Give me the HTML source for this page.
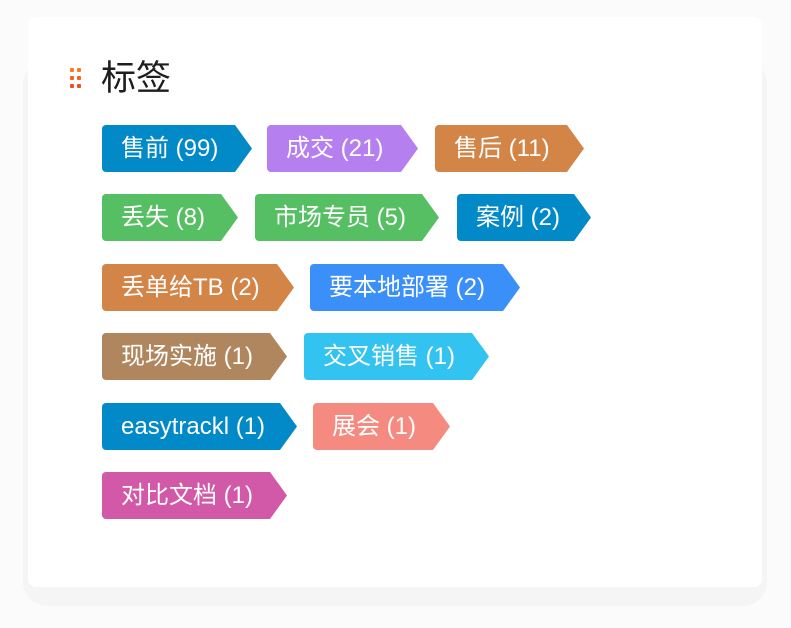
<!DOCTYPE html>
<html>
<head>
<meta charset="utf-8">
<style>
  html, body { margin:0; padding:0; }
  body { width:791px; height:628px; background:#fbfbfb; position:relative; overflow:hidden;
         font-family:"Liberation Sans","Noto Sans CJK SC",sans-serif; }
  .shadow { position:absolute; left:23px; top:60px; width:744px; height:546px; background:#f5f5f5; border-radius:24px; }
  .card { position:absolute; left:28px; top:17px; width:734px; height:570px; background:#fff; border-radius:8px; }
  .dot { position:absolute; width:4px; height:4px; background:#f5641e; border-radius:1px; }
  .title { position:absolute; left:101px; top:57px; font-size:35px; line-height:44px; color:#1e1e1e;
           font-family:"Liberation Sans","Noto Sans CJK SC",sans-serif; }
  .tag { position:absolute; height:47px; line-height:47px; color:#fff; font-size:24px;
         padding-left:19px; box-sizing:border-box; border-radius:4px; white-space:nowrap;
         clip-path: polygon(0 0, calc(100% - 17px) 0, 100% 50%, calc(100% - 17px) 100%, 0 100%); }
</style>
</head>
<body>
<div class="shadow"></div>
<div class="card"></div>

<div class="dot" style="left:70px;top:68px;background:#ff7a1e"></div>
<div class="dot" style="left:77px;top:68px;background:#ff7a1e"></div>
<div class="dot" style="left:70px;top:76px;background:#f8621c"></div>
<div class="dot" style="left:77px;top:76px;background:#f8621c"></div>
<div class="dot" style="left:70px;top:84px;background:#f04e1a"></div>
<div class="dot" style="left:77px;top:84px;background:#f04e1a"></div>
<div class="title">标签</div>

<!-- Row 1 -->
<div class="tag" style="left:102px;top:125px;width:150px;background:#0289c8">售前 (99)</div>
<div class="tag" style="left:267px;top:125px;width:151px;background:#b67ff0">成交 (21)</div>
<div class="tag" style="left:435px;top:125px;width:149px;background:#d38447">售后 (11)</div>
<!-- Row 2 -->
<div class="tag" style="left:102px;top:194px;width:136px;background:#57bf63">丢失 (8)</div>
<div class="tag" style="left:255px;top:194px;width:184px;background:#57bf63">市场专员 (5)</div>
<div class="tag" style="left:457px;top:194px;width:134px;background:#0289c8">案例 (2)</div>
<!-- Row 3 -->
<div class="tag" style="left:102px;top:264px;width:192px;background:#d38447">丢单给TB (2)</div>
<div class="tag" style="left:310px;top:264px;width:210px;background:#3b8ff8">要本地部署 (2)</div>
<!-- Row 4 -->
<div class="tag" style="left:102px;top:333px;width:185px;background:#b0865e">现场实施 (1)</div>
<div class="tag" style="left:304px;top:333px;width:185px;background:#33c3f0">交叉销售 (1)</div>
<!-- Row 5 -->
<div class="tag" style="left:102px;top:403px;width:195px;background:#0289c8">easytrackl (1)</div>
<div class="tag" style="left:313px;top:403px;width:137px;background:#f58a80">展会 (1)</div>
<!-- Row 6 -->
<div class="tag" style="left:102px;top:472px;width:185px;background:#d259a8">对比文档 (1)</div>
</body>
</html>
